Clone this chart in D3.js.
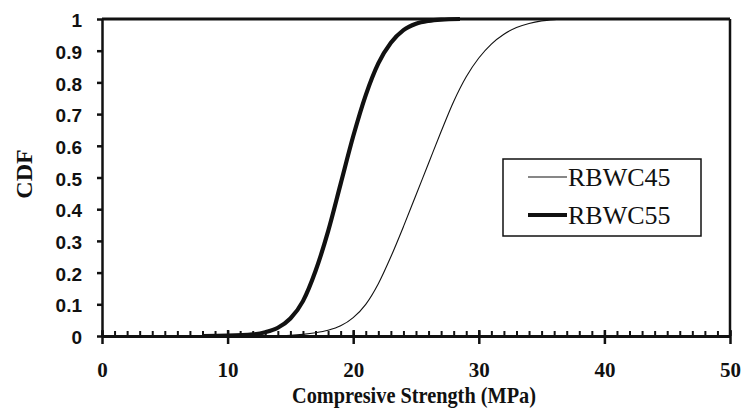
<!DOCTYPE html>
<html>
<head>
<meta charset="utf-8">
<script src="https://cdn.jsdelivr.net/npm/d3@7"></script>
<style>
  html, body { margin: 0; padding: 0; background: #fff; }
  svg { display: block; }
  .y-axis text { font-family: "Liberation Sans", Arial, sans-serif; font-weight: bold; font-size: 19px; fill: #111; }
  .x-axis text { font-family: "Liberation Serif", "Times New Roman", serif; font-weight: bold; font-size: 21px; fill: #111; }
  .axis-title { font-family: "Liberation Serif", "Times New Roman", serif; font-weight: bold; font-size: 24px; fill: #111; }
  .legend-text { font-family: "Liberation Serif", "Times New Roman", serif; font-size: 26px; fill: #111; }
</style>
</head>
<body>
<div id="chart"></div>
<script>
(() => {
  // values
  const strength55 = [8, 10, 12, 13, 14, 15, 16, 17, 18, 19, 20, 21, 22, 23, 24, 25, 26, 27, 28.5];
  const cdf55 = [0, 0.001, 0.005, 0.012, 0.026, 0.055, 0.11, 0.205, 0.33, 0.48, 0.63, 0.76, 0.86, 0.925, 0.965, 0.985, 0.994, 0.998, 1.0];

  const strength45 = [12, 14, 15, 16, 17, 18, 19, 20, 21, 22, 23, 24, 25, 26, 27, 28, 29, 30, 31, 32, 33, 34, 35, 36, 37];
  const cdf45 = [0, 0.001, 0.002, 0.005, 0.01, 0.018, 0.032, 0.058, 0.1, 0.165, 0.25, 0.345, 0.445, 0.545, 0.645, 0.74, 0.818, 0.877, 0.921, 0.952, 0.973, 0.986, 0.994, 0.998, 1.0];

  const seriesNames = ["RBWC45", "RBWC55"];
  const xTicks = [0, 10, 20, 30, 40, 50];
  const yTicks = [0, 0.1, 0.2, 0.3, 0.4, 0.5, 0.6, 0.7, 0.8, 0.9, 1];

  const width = 743;
  const height = 419;
  const margin = { top: 19, right: 13, bottom: 83, left: 102 };
  const innerW = width - margin.left - margin.right;
  const innerH = height - margin.top - margin.bottom;

  const x = d3.scaleLinear().domain([0, 50]).range([0, innerW]);
  const y = d3.scaleLinear().domain([0, 1]).range([innerH, 0]);

  const series = [
    { name: seriesNames[0], width: 1.1, points: strength45.map((s, i) => [s, cdf45[i]]) },
    { name: seriesNames[1], width: 4.2, points: strength55.map((s, i) => [s, cdf55[i]]) },
  ];

  const svg = d3
    .select("#chart")
    .append("svg")
    .attr("width", width)
    .attr("height", height)
    .attr("viewBox", `0 0 ${width} ${height}`);

  svg.append("rect").attr("width", width).attr("height", height).attr("fill", "#fff");

  const g = svg.append("g").attr("transform", `translate(${margin.left},${margin.top})`);

  const line = d3
    .line()
    .x((d) => x(d[0]))
    .y((d) => y(d[1]))
    .curve(d3.curveMonotoneX);

  g.selectAll(".series")
    .data(series)
    .join("path")
    .attr("class", "series")
    .attr("d", (d) => line(d.points))
    .attr("fill", "none")
    .attr("stroke", "#111")
    .attr("stroke-width", (d) => d.width)
    .attr("stroke-linejoin", "round");

  // frame: top and right borders
  g.append("line")
    .attr("x1", 0).attr("x2", innerW)
    .attr("y1", 0).attr("y2", 0)
    .attr("stroke", "#111").attr("stroke-width", 3);
  g.append("line")
    .attr("x1", innerW).attr("x2", innerW)
    .attr("y1", 0).attr("y2", innerH)
    .attr("stroke", "#111").attr("stroke-width", 2.5);

  // minor ticks on x, pointing inward
  const minor = g
    .append("g")
    .attr("transform", `translate(0,${innerH})`)
    .call(d3.axisBottom(x).tickValues(d3.range(0, 51, 1)).tickSize(-5).tickFormat(""));
  minor.select(".domain").remove();
  minor.selectAll("line").attr("stroke", "#111").attr("stroke-width", 2);

  const xAxis = g
    .append("g")
    .attr("class", "x-axis")
    .attr("transform", `translate(0,${innerH})`)
    .call(d3.axisBottom(x).tickValues(xTicks).tickSize(8).tickSizeOuter(0).tickFormat(d3.format("d")));
  xAxis.select(".domain").attr("stroke", "#111").attr("stroke-width", 3);
  xAxis.selectAll(".tick line").attr("y1", -6).attr("stroke", "#111").attr("stroke-width", 2.5);
  xAxis.selectAll(".tick text").attr("y", 41).attr("dy", "0");

  const yAxis = g
    .append("g")
    .attr("class", "y-axis")
    .call(d3.axisLeft(y).tickValues(yTicks).tickSize(5).tickSizeOuter(0).tickPadding(15).tickFormat((d) => String(+d.toFixed(1))));
  yAxis.select(".domain").attr("stroke", "#111").attr("stroke-width", 2.5);
  yAxis.selectAll(".tick line").attr("stroke", "#111").attr("stroke-width", 2.5);
  yAxis.selectAll(".tick text").attr("dy", "0.4em");

  // axis titles
  svg.append("text")
    .attr("class", "axis-title")
    .attr("x", 414)
    .attr("y", 403)
    .attr("text-anchor", "middle")
    .attr("textLength", 244)
    .attr("lengthAdjust", "spacingAndGlyphs")
    .text("Compresive Strength (MPa)");

  svg.append("text")
    .attr("class", "axis-title")
    .attr("transform", "translate(32,174) rotate(-90)")
    .attr("text-anchor", "middle")
    .text("CDF");

  // legend
  const legend = svg.append("g").attr("transform", "translate(503,159)");
  legend.append("rect")
    .attr("width", 198)
    .attr("height", 77)
    .attr("fill", "#fff")
    .attr("stroke", "#111")
    .attr("stroke-width", 1.5);

  const item = legend
    .selectAll(".legend-item")
    .data(series)
    .join("g")
    .attr("class", "legend-item")
    .attr("transform", (d, i) => `translate(0,${18 + i * 38})`);

  item.append("line")
    .attr("x1", 25).attr("x2", 64)
    .attr("stroke", "#111")
    .attr("stroke-width", (d) => d.width);

  item.append("text")
    .attr("class", "legend-text")
    .attr("x", 65)
    .attr("y", 9)
    .text((d) => d.name);
})();
</script>
</body>
</html>
